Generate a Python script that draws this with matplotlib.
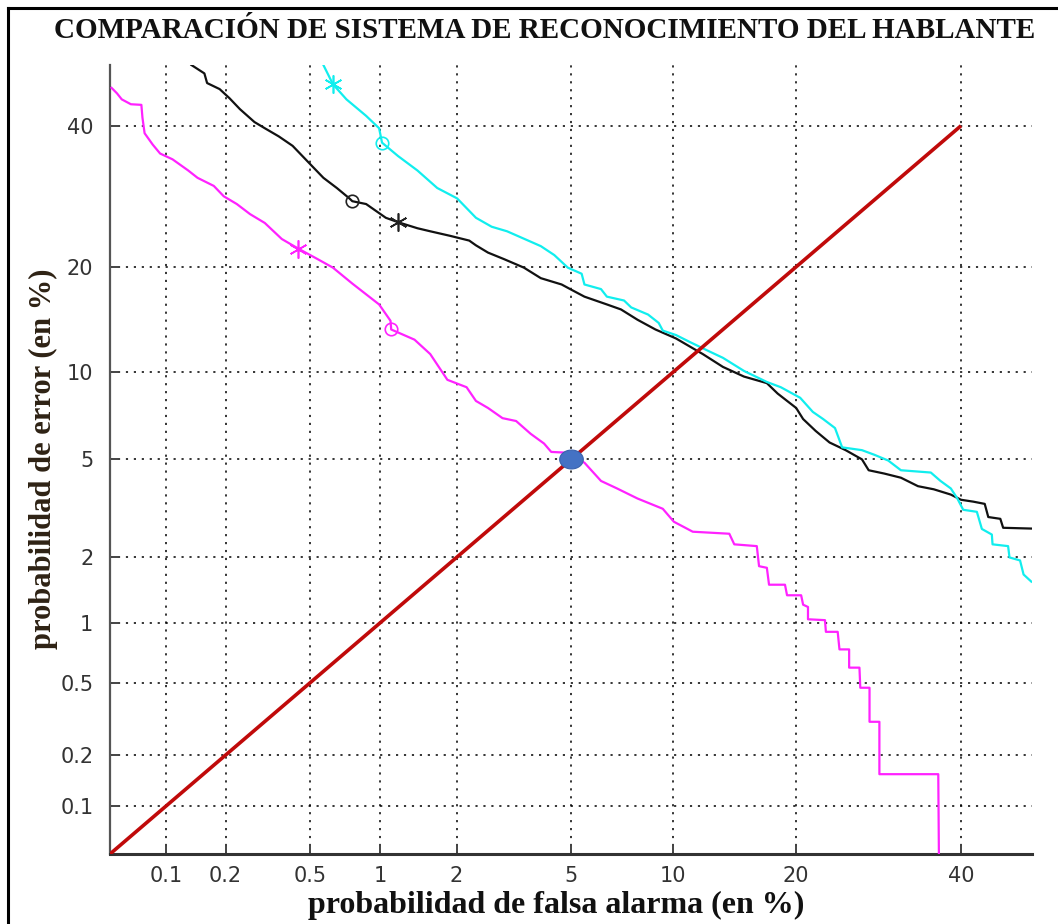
import numpy as np
import matplotlib
matplotlib.use("Agg")
import matplotlib.pyplot as plt
from matplotlib.lines import Line2D
from matplotlib.path import Path
from statistics import NormalDist

# ---------------- data (percent) ----------------
tick_vals = [0.1, 0.2, 0.5, 1, 2, 5, 10, 20, 40]
tick_labels = ['0.1', '0.2', '0.5', '1', '2', '5', '10', '20', '40']

magenta_x = [0.051, 0.0546, 0.058, 0.065, 0.074, 0.075, 0.077, 0.085, 0.093, 0.108,
             0.130, 0.145, 0.175, 0.196, 0.227, 0.263, 0.309, 0.371, 0.441, 0.54,
             0.63, 0.764, 0.99, 1.103, 1.11, 1.377, 1.587, 1.847, 2.18, 2.36,
             2.61, 2.94, 3.28, 3.68, 4.08, 4.31, 4.77, 5.51, 6.20, 6.93,
             7.96, 9.38, 10.06, 11.3, 14.0, 14.4, 16.3, 16.5, 17.2, 17.4,
             18.9, 19.1, 20.5, 20.7, 21.2, 21.2, 23.0, 23.1, 24.4, 24.6,
             25.7, 25.7, 26.9, 27.0, 28.1, 28.1, 29.3, 29.3, 36.9, 37.0]
magenta_y = [46.2, 45.3, 44.3, 43.5, 43.4, 41.3, 38.8, 37.0, 35.6, 34.7,
             33.0, 31.9, 30.7, 29.2, 28.1, 26.7, 25.5, 23.4, 22.2, 20.9,
             19.9, 18.1, 15.9, 14.3, 13.5, 12.6, 11.4, 9.46, 8.95, 8.06,
             7.63, 7.04, 6.88, 6.20, 5.72, 5.33, 5.3, 4.86, 4.14, 3.87,
             3.53, 3.21, 2.84, 2.58, 2.53, 2.28, 2.24, 1.83, 1.80, 1.51,
             1.51, 1.35, 1.35, 1.22, 1.19, 1.04, 1.03, 0.904, 0.904, 0.74,
             0.74, 0.598, 0.598, 0.47, 0.47, 0.308, 0.308, 0.155, 0.155, 0.04]

black_x = [0.135, 0.157, 0.162, 0.187, 0.209, 0.235, 0.276, 0.309, 0.359, 0.416,
           0.505, 0.572, 0.655, 0.742, 0.764, 0.874, 1.055, 1.184, 1.414, 1.587,
           1.896, 2.23, 2.36, 2.61, 2.98, 3.49, 3.98, 4.66, 5.03, 5.51,
           6.46, 7.12, 7.96, 8.95, 10.2, 12.0, 13.5, 15.2, 17.2, 18.2,
           20.0, 20.7, 22.0, 23.5, 25.3, 27.2, 28.0, 29.9, 32.0, 34.2,
           36.3, 38.6, 40.0, 41.7, 43.3, 43.8, 45.5, 45.9, 49.9]
black_y = [50.0, 48.6, 47.0, 46.0, 44.5, 42.7, 40.6, 39.6, 38.3, 36.8,
           33.8, 31.9, 30.4, 28.9, 28.5, 28.1, 26.2, 25.6, 24.8, 24.4,
           23.8, 23.2, 22.6, 21.7, 20.9, 19.9, 18.7, 18.0, 17.4, 16.7,
           15.9, 15.4, 14.4, 13.5, 12.7, 11.4, 10.4, 9.69, 9.23, 8.53,
           7.63, 6.99, 6.35, 5.77, 5.41, 5.0, 4.55, 4.42, 4.26, 3.95,
           3.84, 3.66, 3.49, 3.43, 3.36, 2.97, 2.92, 2.68, 2.66]

cyan_x = [0.572, 0.63, 0.721, 0.874, 0.99, 1.018, 1.184, 1.414, 1.689, 2.01,
          2.36, 2.69, 3.05, 3.98, 4.41, 4.88, 5.40, 5.51, 6.20, 6.46,
          7.27, 7.63, 8.53, 9.14, 9.38, 10.2, 11.1, 12.5, 13.5, 15.2,
          17.2, 18.5, 20.4, 21.7, 22.8, 24.1, 24.9, 27.2, 28.7, 30.4,
          32.0, 35.9, 37.2, 38.6, 39.5, 40.3, 42.2, 42.9, 44.3, 44.4,
          46.6, 46.8, 48.3, 48.8, 49.9]
cyan_y = [50.0, 46.8, 44.3, 41.6, 39.6, 37.3, 35.2, 33.0, 30.4, 28.9,
          26.2, 25.0, 24.4, 22.5, 21.4, 19.9, 19.2, 18.0, 17.5, 16.7,
          16.3, 15.6, 14.9, 14.1, 13.4, 13.0, 12.4, 11.6, 11.1, 10.1,
          9.31, 8.95, 8.26, 7.4, 6.99, 6.50, 5.54, 5.41, 5.20, 4.95,
          4.55, 4.46, 4.14, 3.87, 3.53, 3.18, 3.12, 2.65, 2.51, 2.28,
          2.24, 2.0, 1.94, 1.68, 1.56]

# operating-point markers on each curve
magenta_star = (0.441, 22.2)
magenta_circ = (1.11, 13.5)
black_circ = (0.764, 28.5)
black_star = (1.184, 25.6)
cyan_star = (0.63, 46.8)
cyan_circ = (1.018, 37.3)

diag_x = [0.05, 40]
diag_y = [0.05, 40]
eer_x = [5]
eer_y = [5]

# ---------------- probit (normal deviate) scale ----------------
_N = NormalDist()
_ppf = np.vectorize(_N.inv_cdf, otypes=[float])
_cdf = np.vectorize(_N.cdf, otypes=[float])


def fwd(p):
    p = np.asarray(p, dtype=float)
    q = np.clip(p / 100.0, 1e-9, 1 - 1e-9)
    return _ppf(q)


def inv(z):
    z = np.asarray(z, dtype=float)
    return _cdf(z) * 100.0


fig = plt.figure(figsize=(10.58, 9.24), dpi=100)
fig.patch.set_facecolor('white')
ax = fig.add_axes([110 / 1058, 1 - 854 / 924, (1032 - 110) / 1058, (854 - 65) / 924])
ax.set_xscale('function', functions=(fwd, inv))
ax.set_yscale('function', functions=(fwd, inv))
ax.set_xlim(0.05, 50)
ax.set_ylim(0.05, 50)

ax.set_xticks(tick_vals)
ax.set_xticklabels(tick_labels)
ax.set_yticks(tick_vals)
ax.set_yticklabels(tick_labels)
ax.minorticks_off()

ax.grid(True, which='major', color='black', linestyle=(0, (1.2, 3.2)), linewidth=1.3, alpha=0.85)
ax.set_axisbelow(True)

for s in ['top', 'right']:
    ax.spines[s].set_visible(False)
ax.spines['left'].set_color('#555555')
ax.spines['left'].set_linewidth(1.6)
ax.spines['bottom'].set_color('#333333')
ax.spines['bottom'].set_linewidth(2.2)

ax.tick_params(axis='both', direction='in', length=7, width=1.4, color='#444444')
ax.tick_params(axis='y', pad=12, labelsize=15, labelcolor='#333333')
ax.tick_params(axis='x', pad=9, labelsize=15, labelcolor='#333333')
for lab in ax.get_yticklabels():
    lab.set_family(['DejaVu Sans'])
for lab in ax.get_xticklabels():
    lab.set_family(['Liberation Sans Narrow', 'DejaVu Sans'])

lw = 1.6
ax.plot(magenta_x, magenta_y, color='#ff22ff', lw=lw, zorder=3)
ax.plot(black_x, black_y, color='#111111', lw=lw, zorder=3)
ax.plot(cyan_x, cyan_y, color='#11eeee', lw=lw, zorder=3)

ast = (6, 2, 0)
ax.plot([magenta_star[0]], [magenta_star[1]], marker=ast, ms=13, mew=1.2, color='#ff22ff', zorder=4)
ax.plot([magenta_circ[0]], [magenta_circ[1]], marker='o', ms=9, mew=1.2, mfc='none', mec='#ff22ff', zorder=4)
ax.plot([black_circ[0]], [black_circ[1]], marker='o', ms=9, mew=1.2, mfc='none', mec='#222222', zorder=4)
ax.plot([black_star[0]], [black_star[1]], marker=ast, ms=13, mew=1.2, color='#222222', zorder=4)
ax.plot([cyan_star[0]], [cyan_star[1]], marker=ast, ms=13, mew=1.2, color='#11eeee', zorder=4)
ax.plot([cyan_circ[0]], [cyan_circ[1]], marker='o', ms=9, mew=1.2, mfc='none', mec='#11eeee', zorder=4)

ax.plot(diag_x, diag_y, color='#c00a0a', lw=2.6, zorder=5, solid_capstyle='butt')

theta = np.linspace(0, 2 * np.pi, 60)
ellipse = Path(np.column_stack([np.cos(theta), 0.8 * np.sin(theta)]), closed=True)
ax.plot(eer_x, eer_y, marker=ellipse, ms=17, color='#4472c4', mec='#3a62ad', mew=0.8,
        linestyle='none', zorder=6)

serif = ['Liberation Serif', 'DejaVu Serif']
fig.text(545 / 1058, 1 - 31 / 924, 'COMPARACIÓN DE SISTEMA DE RECONOCIMIENTO DEL HABLANTE',
         ha='center', va='center', fontsize=21, fontweight='bold', family=serif, color='#111111')
fig.text(556 / 1058, 1 - 913 / 924, 'probabilidad de falsa alarma (en %)',
         ha='center', va='baseline', fontsize=23, fontweight='bold', family=serif, color='#111111')
fig.text(43 / 1058, 1 - 459 / 924, 'probabilidad de error (en %)',
         ha='center', va='center', rotation=90, fontsize=22, fontweight='bold', family=serif,
         color='#2e2214')

# image frame (top and left edges)
fig.add_artist(Line2D([8 / 1058, 1.0], [1 - 8 / 924, 1 - 8 / 924], transform=fig.transFigure,
                      color='black', lw=2.2))
fig.add_artist(Line2D([8 / 1058, 8 / 1058], [0.0, 1 - 8 / 924], transform=fig.transFigure,
                      color='black', lw=2.2))

fig.savefig('out.png', dpi=100)
